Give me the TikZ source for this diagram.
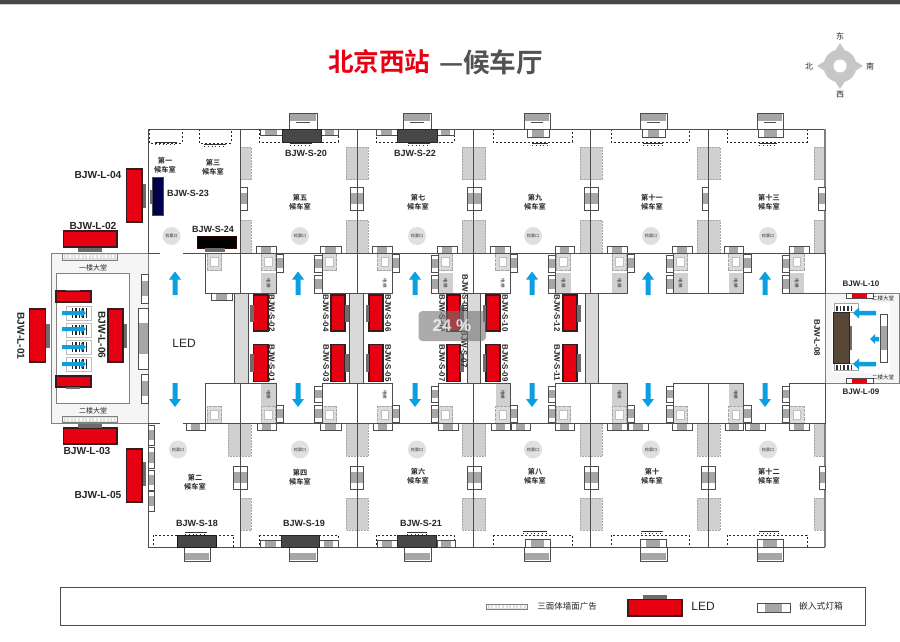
\documentclass[tikz,border=0pt]{standalone}
\usepackage{fontspec}
\setmainfont{Liberation Sans}
\newfontfamily\cjk[BoldFont=Noto Sans CJK SC Bold]{Noto Sans CJK SC}
\definecolor{wallc}{HTML}{4D4D4D}
\definecolor{redc}{HTML}{E60012}
\definecolor{redb}{HTML}{3A1A1A}
\definecolor{cyanc}{HTML}{0A9FE0}
\definecolor{panelc}{HTML}{D0D0D0}
\definecolor{doorc}{HTML}{A6A6A6}
\definecolor{darkbox}{HTML}{474747}
\newcount\tcnt
\tikzset{
  lbl/.style={inner sep=0pt,outer sep=0pt,text=black!85},
  inner wall/.style={draw=wallc,line width=0.8pt},
  roomt/.style={lbl,align=center,font=\cjk\bfseries\fontsize{7.2}{9.2}\selectfont},
  panelbox/.style={fill=panelc,draw=gray!70,line width=0.5pt,densely dotted},
  dashbox/.style={draw=black!85,line width=0.6pt,dash pattern=on 2pt off 2pt},
  doorbox/.style={draw=wallc,fill=white,line width=0.8pt},
  doormid/.style={fill=doorc},
  ledbox/.style={fill=redc,draw=redb,line width=1.3pt},
  basebox/.style={fill=darkbox!80,draw=none},
  blockbox/.style={draw=wallc,fill=white,line width=0.9pt},
  stripbox/.style={fill=black!15,draw=wallc,line width=0.8pt},
  circ/.style={fill=black!12,draw=none},
}
% text
\newcommand\tx[5][]{\global\advance\tcnt by 1
  \node[lbl,font=\fontsize{#4}{#4}\selectfont,#1] (t\the\tcnt) at (#2,#3) {#5};}
\newcommand\room[3]{\global\advance\tcnt by 1
  \node[roomt] (t\the\tcnt) at (#1,#2) {#3};}
% horizontal door x1 x2 y1 y2
\newcommand\hd[4]{\draw[doorbox] (#1,#3) rectangle (#2,#4);
  \pgfmathsetmacro\da{#1+(#2-#1)*0.24}\pgfmathsetmacro\db{#2-(#2-#1)*0.24}
  \fill[doormid] (\da,#3) rectangle (\db,#4);\draw[wallc,line width=0.4pt] (#1,#3) rectangle (#2,#4);}
% vertical door
\newcommand\vd[4]{\draw[doorbox] (#1,#3) rectangle (#2,#4);
  \pgfmathsetmacro\da{#3+(#4-#3)*0.24}\pgfmathsetmacro\db{#4-(#4-#3)*0.24}
  \fill[doormid] (#1,\da) rectangle (#2,\db);\draw[wallc,line width=0.4pt] (#1,#3) rectangle (#2,#4);}
% arrow: x y angle length shaft head headlen
\newcommand\arw[7]{\begin{scope}[shift={(#1,#2)},rotate=#3]
  \pgfmathsetmacro\sx{#5/2}\pgfmathsetmacro\hx{#6/2}\pgfmathsetmacro\nx{#4-#7}
  \fill[cyanc] (0,-\sx) -- (\nx,-\sx) -- (\nx,-\hx) -- (#4,0) -- (\nx,\hx) -- (\nx,\sx) -- (0,\sx) -- cycle;
  \end{scope}}
% icon: x y
\newcommand\ico[2]{\pgfmathsetmacro\ia{#1+14.5}\pgfmathsetmacro\ib{#2+17}
  \pgfmathsetmacro\ic{#1+3.5}\pgfmathsetmacro\id{#2+4}\pgfmathsetmacro\ie{#1+11}\pgfmathsetmacro\ig{#2+13}
  \fill[black!14] (#1,#2) rectangle (\ia,\ib);
  \draw[gray!70,line width=0.3pt,densely dotted] (#1,#2) rectangle (\ia,\ib);
  \draw[fill=white,draw=gray!50,line width=0.5pt] (\ic,\id) rectangle (\ie,\ig);}
% block panel: x1 x2 y1 y2 fill
\newcommand\pnl[5]{\fill[#5] (#1,#3) rectangle (#2,#4);
  \pgfmathsetmacro\pa{(#1+#2)/2}\pgfmathsetmacro\pb{(#3+#4)/2}
  \tx[rotate=-90]{\pa}{\pb}{4.5}{\cjk 电梯}}
% ticks
\newcommand\tck[3]{\pgfmathsetmacro\ta{#1-#3}\pgfmathsetmacro\tb{#1+#3}\pgfmathsetmacro\tc{#2+2.5}
  \draw[black!80,line width=0.5pt] (\ta,#2) -- (\tb,#2);
  \draw[black!80,line width=0.5pt,dash pattern=on 0.8pt off 3pt] (\ta,\tc) -- (\tb,\tc);}
% hatched billboard: x1 x2 y1 y2
\newcommand\bill[4]{\pgfmathsetmacro\ym{(#3+#4)/2}
  \fill[black!12] (#1,#3) rectangle (#2,#4);
  \draw[white,line width=3pt,dash pattern=on 1.6pt off 2pt] (#1,\ym) -- (#2,\ym);
  \draw[gray,line width=0.7pt] (#1,#3) rectangle (#2,#4);}
% ladder row
\newcommand\lad[4]{\pgfmathsetmacro\ym{(#3+#4)/2}\pgfmathsetmacro\lw{(#4-#3)*0.75}
  \draw[gray!50,line width=0.4pt,fill=white] (#1,#3) rectangle (#2,#4);
  \draw[black!85,line width=\lw pt,dash pattern=on 1.6pt off 1.9pt] (#1+5,\ym) -- (#2-5,\ym);}
\begin{document}
\begin{tikzpicture}[x=1pt,y=-1pt]
\useasboundingbox (0,0) rectangle (900,642);
\fill[white] (0,0) rectangle (900,642);
% top bar
\fill[black!72] (0,0) rectangle (900,4.2);
\fill[black!20] (0,4.2) rectangle (900,5);
% title
\tx[text=redc,font=\cjk\bfseries\fontsize{25.6}{25.6}\selectfont,anchor=west]{328}{62}{25.6}{北京西站}
\tx[text=black!68,font=\cjk\bfseries\fontsize{26.6}{26.6}\selectfont,anchor=west]{439}{62}{26.6}{—候车厅}
% compass
\fill[black!22] (840,66) circle (16.5);
\fill[black!22] (840,43) -- (847,54) -- (852,59) -- (863,66) -- (852,73) -- (847,78) -- (840,89) -- (833,78) -- (828,73) -- (817,66) -- (828,59) -- (833,54) -- cycle;
\fill[white] (840,66) circle (6.5);
\tx{840}{36}{8}{\cjk 东}
\tx{870}{66}{8}{\cjk 南}
\tx{840}{95}{8}{\cjk 西}
\tx{809}{66}{8}{\cjk 北}

% annexes
\fill[black!4] (51.5,253) rectangle (148,423);
\draw[gray,line width=0.8pt] (148,253) -- (51.5,253) -- (51.5,423) -- (148,423);
\draw[gray,fill=white,line width=0.7pt] (56,273.5) rectangle (129,403);
\fill[black!4] (825,293) rectangle (899,383);
\draw[gray,line width=0.8pt] (825,293) rectangle (899,383);
\fill[white] (832,303) rectangle (890,373);

% centre strips
\foreach \a/\b in {234/248,349/363,467/480,585/598}{
  \draw[stripbox] (\a,293) rectangle (\b,383.5);}

% wall panels upper and lower
\foreach \a/\b in {240/251,346/368,462/485.5,580/602,697/720,814/825}{
  \draw[panelbox] (\a,147) rectangle (\b,179.5);
  \draw[panelbox] (\a,220) rectangle (\b,253);
  \draw[panelbox] (\a,498) rectangle (\b,530);}
\foreach \a/\b in {228/251,346/368,462/485.5,580/602,697/720,814/825}{
  \draw[panelbox] (\a,423) rectangle (\b,456);}

% dashed billboard zones
\foreach \a/\b in {259/338,376/454,493/572,611/689,727/807}{
  \draw[dashbox] (\a,129) rectangle (\b,142);
  \draw[dashbox] (\a,535) rectangle (\b,547);}
\draw[dashbox] (149,129) rectangle (182,143);
\draw[dashbox] (199,129) rectangle (231,143);
\draw[dashbox] (153,535) rectangle (233,547);

% main walls
\draw[inner wall] (148,129) -- (825,129);
\draw[inner wall] (148,547) -- (825,547);
\draw[inner wall] (148,129) -- (148,253);
\draw[inner wall] (148,423) -- (148,547);
\draw[gray,line width=0.7pt] (148,253) -- (148,423);
\draw[draw=gray,line width=1.4pt] (825,129) -- (825,293);
\draw[draw=gray,line width=1.4pt] (825,383) -- (825,547);
\foreach \x in {240,357,473.5,590,708}{
  \draw[inner wall] (\x,129) -- (\x,293);
  \draw[inner wall] (\x,383.5) -- (\x,547);}
\draw[inner wall] (148,253) -- (160,253);
\draw[inner wall] (183,253) -- (825,253);
\draw[inner wall] (148,423) -- (160,423);
\draw[inner wall] (183,423) -- (825,423);

% service blocks upper
\foreach \a/\b in {205/276,322/392,438/510,555/627,673/743}{
  \draw[blockbox] (\a,253) rectangle (\b,293);
  \draw[blockbox] (\a,383.5) rectangle (\b,423);}
\draw[blockbox] (789,253) rectangle (825,293);
\draw[blockbox] (789,383.5) rectangle (825,423);
\foreach \x in {240,357,473.5,590,708}{
  \draw[inner wall] (\x,253) -- (\x,293);
  \draw[inner wall] (\x,383.5) -- (\x,423);}

% icons
\foreach \x in {207,261,322,377.5,438,495.5,556,612,673,728.5,789.5}{
  \ico{\x}{253.5}\ico{\x}{406}}
% block panels upper
\pnl{261}{276}{273}{293}{panelc}
\pnl{377.5}{392}{273}{293}{white}
\pnl{438}{453}{273}{293}{panelc}
\pnl{495.5}{510}{273}{293}{white}
\pnl{556}{571}{273}{293}{panelc}
\pnl{612}{627}{273}{293}{panelc}
\pnl{673}{688}{273}{293}{panelc}
\pnl{728.5}{743}{273}{293}{panelc}
\pnl{789.5}{804}{273}{293}{panelc}
% block panels lower
\pnl{261}{276}{384}{405.5}{panelc}
\pnl{377.5}{392}{384}{405.5}{white}
\pnl{495.5}{510}{384}{405.5}{panelc}
\pnl{612}{627}{384}{405.5}{panelc}
\pnl{728.5}{743}{384}{405.5}{panelc}
\foreach \a/\b in {205/276,322/392,438/510,555/627,673/743}{
  \draw[inner wall] (\a,253) rectangle (\b,293);
  \draw[inner wall] (\a,383.5) rectangle (\b,423);}
\draw[inner wall] (789,253) -- (789,293) -- (825,293);
\draw[inner wall] (789,423) -- (789,383.5) -- (825,383.5);

% doors above upper blocks
\foreach \a/\b in {256.5/276,320.5/341,372.5/392,437/457,490.5/510,555/574,607/627,672/692,724/743,789/809}{
  \hd{\a}{\b}{246}{253}}
\hd{211}{232}{293}{300}
% side doors upper blocks
\foreach \a/\b in {276/283,392/399,510/517,627/634,743/751}{
  \vd{\a}{\b}{254}{272}}
\foreach \a/\b in {314/322,431/438,548/555,666/673,782/789}{
  \vd{\a}{\b}{255}{272}\vd{\a}{\b}{275}{293}}
% doors below lower blocks
\foreach \a/\b in {186/205,257/276,320/341,373/392,438/458,491/510,511/530,555/574,607/627,628/648,672/692,725/743,745/765,789/809}{
  \hd{\a}{\b}{423}{430}}
\foreach \a/\b in {276/283,392/399,510/517,627/634,743/751}{
  \vd{\a}{\b}{405}{422}}
\foreach \a/\b in {314/322,431/438,548/555,666/673,782/789}{
  \vd{\a}{\b}{386}{402}\vd{\a}{\b}{405}{422}}

% wall doors
\vd{240}{247}{187}{210}
\vd{233}{247}{466}{489}
\foreach \a/\b in {350.5/363.5,467/481,584/598}{
  \vd{\a}{\b}{187}{210}\vd{\a}{\b}{466}{489}}
\vd{702}{708}{187}{210}
\vd{701}{715}{466}{489}
\vd{818.5}{825}{187}{210}
\vd{819}{825}{466}{489}
\foreach \x in {240,357,473.5,590,708}{
  \draw[inner wall] (\x,187) -- (\x,210);
  \draw[inner wall] (\x,466) -- (\x,489);}
% left wall doors
\vd{148}{154}{425}{445}
\vd{148}{154}{447}{468}
\vd{148}{154}{470}{490}
\vd{148}{154}{491}{511}
% annex right-wall doors
\vd{141}{148}{274}{303}
\vd{138}{148}{308}{369}
\vd{141}{148}{374}{403}

% top billboards
\foreach \a/\b in {289/317,403/431,524/550,640/667,757/783}{
  \draw[doorbox,line width=1pt] (\a,113) rectangle (\b,129);
  \fill[doorc] (\a+1,114) rectangle (\b-1,121);
  \draw[black!70,line width=0.6pt] (\a+7,122.5) -- (\b-7,122.5);}
\foreach \a/\b in {184/210,289/317,404/431,524/550,640/667,757/783}{
  \draw[doorbox,line width=1pt] (\a,547) rectangle (\b,561);
  \fill[doorc] (\a+1,553) rectangle (\b-1,560);}
% inner doors on billboards
\foreach \a/\b in {527/549,642/665,758/783}{\hd{\a}{\b}{129}{137}}
\foreach \a/\b in {525/550,640/666,757/783}{\hd{\a}{\b}{539}{547}}
\foreach \a/\b in {260/282,321/338,376/397,437/454}{\hd{\a}{\b}{129}{135}}
\foreach \a/\b in {260/281,319/338,377/397,437/455}{\hd{\a}{\b}{540}{547}}
% ticks
\tck{166}{142}{11}\tck{215}{144}{11}\tck{301}{143}{11}\tck{419}{143}{11}
\tck{540}{143}{8}\tck{653}{143}{10}\tck{768}{143}{9}
\tck{196}{532}{11}\tck{417}{532}{10}\tck{535}{531}{12}\tck{652}{531}{11}\tck{769}{531}{10}

% dark LED boxes
\draw[fill=darkbox,draw=black!85,line width=0.6pt] (282,129) rectangle (321,142);
\draw[fill=darkbox,draw=black!85,line width=0.6pt] (397,129) rectangle (437,142);
\draw[fill=darkbox,draw=black!90,line width=1pt] (177,535) rectangle (216,547);
\draw[fill=darkbox,draw=black!85,line width=0.6pt] (281,535) rectangle (319,547);
\draw[fill=darkbox,draw=black!85,line width=0.6pt] (397,535) rectangle (436,547);

% big LEDs
\draw[ledbox] (63.5,231) rectangle (117,247);\fill[basebox] (78,247.5) rectangle (102,251.5);
\draw[ledbox] (63.5,428) rectangle (117,444);\fill[basebox] (78,424) rectangle (102,428);
\draw[ledbox] (126.5,169) rectangle (142,222);\fill[basebox] (142.5,184) rectangle (146,208);
\draw[ledbox] (126.5,449) rectangle (142,502);\fill[basebox] (142.5,462) rectangle (146,486);
\draw[draw=black!70,line width=0.8pt,fill=blue!30!black] (152,177) rectangle (163,215);
\fill[basebox] (150,190) rectangle (152,204);
\draw[fill=black,draw=black!80!red,line width=0.6pt] (197,236) rectangle (236,248);
\fill[basebox] (205,248) rectangle (225,251.5);
\draw[ledbox] (29.5,309) rectangle (45.5,362);\fill[basebox] (46,324) rectangle (49.5,348);
\draw[ledbox] (108,309) rectangle (123,362);\fill[basebox] (123.5,324) rectangle (127,348);
\draw[ledbox] (56,291) rectangle (91,302);\fill[basebox] (66,289.5) rectangle (80,291);
\draw[ledbox] (56,376) rectangle (91,387);\fill[basebox] (66,387) rectangle (80,388.5);

% centre LEDs
\foreach \a/\b/\c/\d in {253.5/268/250/253.5,331/345/345/348.5,369/383/365.5/369,447/460/460/463.5,486/500/482.5/486,563/577/577/581}{
  \draw[ledbox] (\a,295) rectangle (\b,331);
  \fill[basebox] (\c,305) rectangle (\d,322);
  \draw[ledbox] (\a,344.5) rectangle (\b,381.5);
  \fill[basebox] (\c,354) rectangle (\d,372);}

% annex billboards
\bill{62}{117}{253.5}{260}
\bill{62}{117}{416}{422.5}
% annex ladders and arrows
\foreach \y in {306,323,340,357}{
  \lad{66.5}{91}{\y}{\y+14}}
\foreach \y in {313,329,347,364}{
  \arw{62}{\y}{0}{24}{4}{9}{5}}

% right annex content
\hd{846}{873}{293}{298.5}
\fill[redc] (852,293.5) rectangle (867,298);
\hd{846}{873}{378}{383}
\fill[redc] (852,378.5) rectangle (867,382.5);
\draw[gray!70,line width=0.5pt,fill=white] (834,303.5) rectangle (858,312);
\draw[gray!70,line width=0.5pt,fill=white] (834,363) rectangle (858,370.5);
\draw[black!80,line width=5pt,dash pattern=on 1.5pt off 2.2pt] (836,308.5) -- (851,308.5);
\draw[black!80,line width=5pt,dash pattern=on 1.5pt off 2.2pt] (836,367) -- (851,367);
\draw[fill=brown!30!black!85,draw=black!85,line width=0.8pt] (833.5,312) rectangle (849,363);
\fill[basebox] (849.5,326) rectangle (852,350);
\vd{880}{887}{314}{362}
\arw{876}{313}{180}{23}{4.5}{11}{6}
\arw{876}{364}{180}{23}{4.5}{11}{6}
\arw{879}{339}{180}{9}{4.5}{10}{5}

% circles
\foreach \x in {171.5,300,417,533,651,768}{
  \fill[circ] (\x,236) circle (9);}
\foreach \x in {178,300,417,533,651,768}{
  \fill[circ] (\x,449.5) circle (9);}
\foreach \x in {171.5,300,417,533,651,768}{
  \tx{\x}{236}{4}{\cjk 检票口}}
\foreach \x in {178,300,417,533,651,768}{
  \tx{\x}{449.5}{4}{\cjk 检票口}}

% corridor arrows
\foreach \x in {175,298,415,532,648,765}{
  \arw{\x}{295}{90}{23.5}{5}{12}{8}
  \arw{\x}{383}{-90}{24}{5}{12}{8}}

% room titles
\room{165}{165}{第一\\候车室}
\room{213}{167.5}{第三\\候车室}
\room{300}{202}{第五\\候车室}
\room{418}{202}{第七\\候车室}
\room{535}{202}{第九\\候车室}
\room{652}{202}{第十一\\候车室}
\room{769}{202}{第十三\\候车室}
\room{195}{482.5}{第二\\候车室}
\room{300}{477}{第四\\候车室}
\room{418}{476.5}{第六\\候车室}
\room{535}{476.5}{第八\\候车室}
\room{652}{476.5}{第十\\候车室}
\room{769}{476.5}{第十二\\候车室}
\tx{93}{268}{7}{\cjk 一楼大堂}
\tx{93}{411}{7}{\cjk 二楼大堂}
\tx{883}{298}{5.5}{\cjk 二楼大堂}
\tx{883}{377}{5.5}{\cjk 二楼大堂}

% labels
\tx{184}{343}{12}{LED}
\tx{98}{175}{10.2}{\bfseries BJW-L-04}
\tx{93}{226}{10.2}{\bfseries BJW-L-02}
\tx{87}{451}{10.2}{\bfseries BJW-L-03}
\tx{98}{495}{10.2}{\bfseries BJW-L-05}
\tx[rotate=-90]{21}{336}{10.2}{\bfseries BJW-L-01}
\tx[rotate=-90]{102}{335}{10.2}{\bfseries BJW-L-06}
\tx{861}{284}{8}{\bfseries BJW-L-10}
\tx{861}{392}{8}{\bfseries BJW-L-09}
\tx[rotate=-90]{817}{338}{8}{\bfseries BJW-L-08}
\tx{188}{193}{9}{\bfseries BJW-S-23}
\tx{213}{229}{9}{\bfseries BJW-S-24}
\tx{197}{523}{9}{\bfseries BJW-S-18}
\tx{304}{523}{9}{\bfseries BJW-S-19}
\tx{421}{523}{9}{\bfseries BJW-S-21}
\tx{306}{153}{9}{\bfseries BJW-S-20}
\tx{415}{153}{9}{\bfseries BJW-S-22}
\foreach \x/\u/\d in {272/02/01,326/04/03,388/06/05,442/08/07,505/10/09,557/12/11}{
  \tx[rotate=-90]{\x}{313}{8}{\bfseries BJW-S-\u}
  \tx[rotate=-90]{\x}{363}{8}{\bfseries BJW-S-\d}}
\tx[rotate=-90]{465}{293}{8}{\bfseries BJW-S-08}
\tx[rotate=-90]{464}{349}{8}{\bfseries BJW-S-07}

% legend
\draw[draw=wallc,line width=1pt,fill=white] (60,587) rectangle (865,625);
\bill{486}{527}{604}{609}
\tx{567}{606.5}{8.5}{\cjk 三面体墙面广告}
\draw[ledbox] (628,599.5) rectangle (682,616);
\fill[basebox] (643,595) rectangle (667,599);
\tx{703}{606}{12}{LED}
\hd{757}{790}{603}{612}
\tx{821}{606.5}{8.8}{\cjk 嵌入式灯箱}

% progress overlay
\fill[black!55,opacity=0.6,rounded corners=4pt] (418.5,311) rectangle (486,341);
\tx[text=white,opacity=0.75,font=\bfseries\fontsize{17}{17}\selectfont]{452}{326}{17}{24 \%}
\end{tikzpicture}
\end{document}
